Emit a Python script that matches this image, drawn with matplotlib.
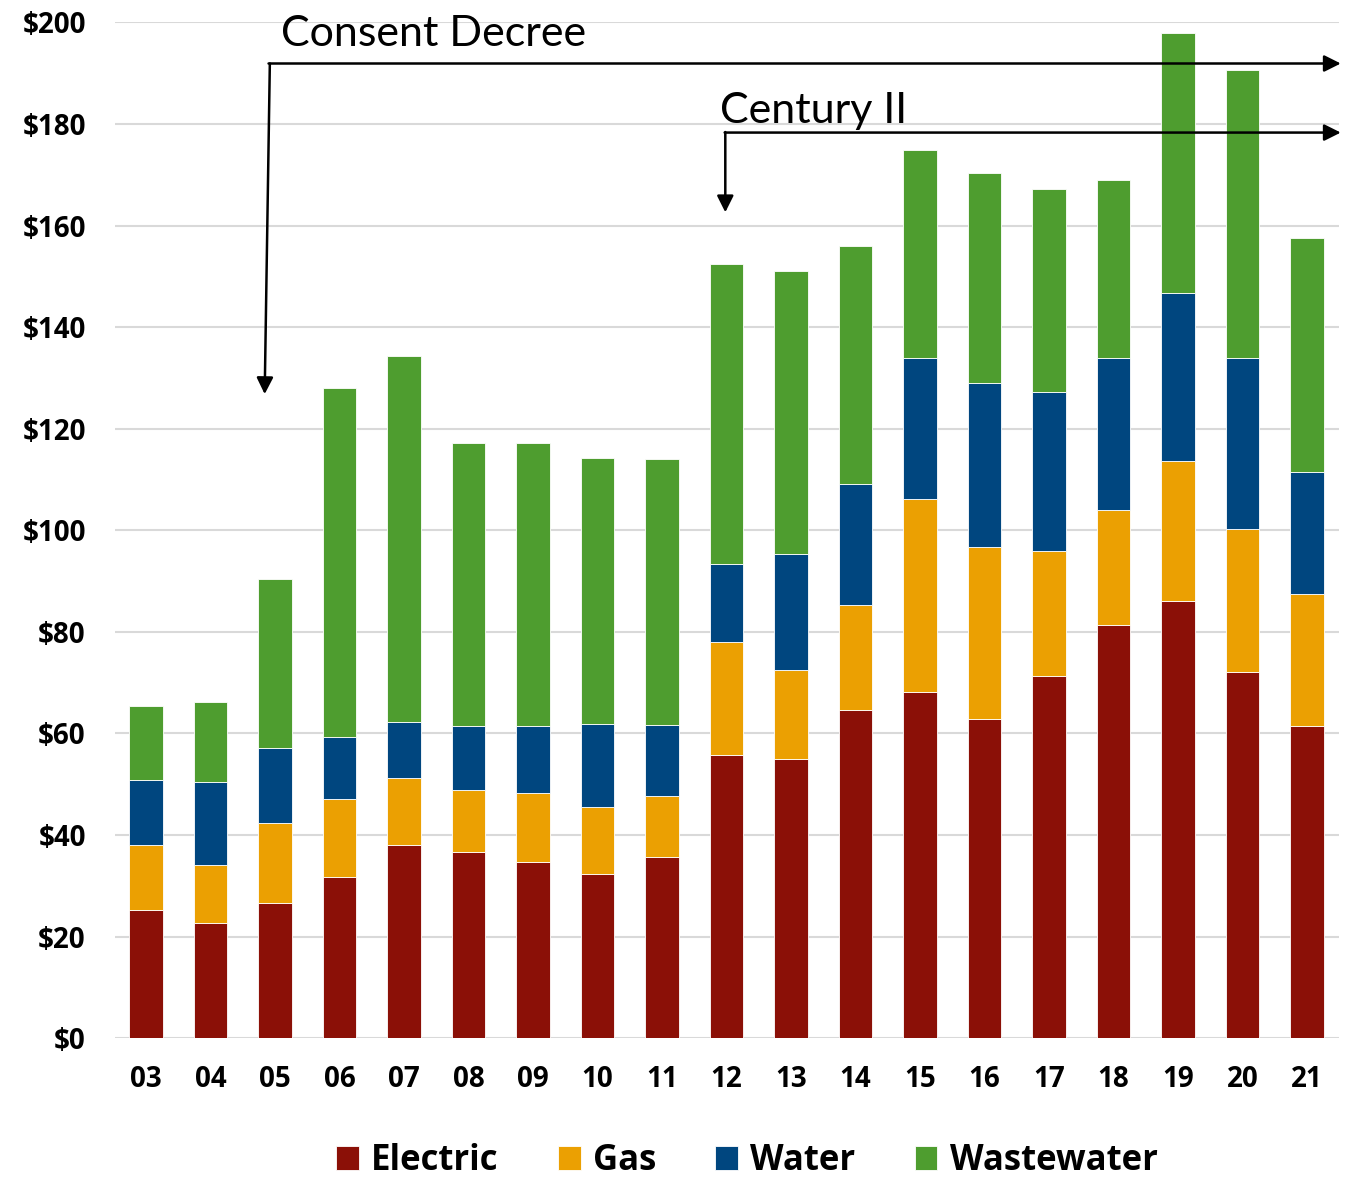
import matplotlib
matplotlib.use('Agg')
import matplotlib.pyplot as plt
import numpy as np

# Fiscal years and spending by utility ($ millions)
years = ['03', '04', '05', '06', '07', '08', '09', '10', '11', '12',
         '13', '14', '15', '16', '17', '18', '19', '20', '21']
electric = [25.2, 22.6, 26.6, 31.7, 38.0, 36.6, 34.6, 32.3, 35.6, 55.7,
            54.9, 64.6, 68.1, 62.8, 71.3, 81.3, 86.0, 72.0, 61.4]
gas = [12.8, 11.5, 15.7, 15.3, 13.2, 12.2, 13.6, 13.2, 12.0, 22.3,
       17.5, 20.6, 38.0, 33.9, 24.6, 22.6, 27.6, 28.2, 26.0]
water = [12.8, 16.3, 14.8, 12.3, 11.0, 12.6, 13.2, 16.3, 14.0, 15.3,
         22.9, 23.9, 27.8, 32.2, 31.3, 30.0, 33.1, 33.7, 24.0]
wastewater = [14.6, 15.7, 33.3, 68.7, 72.1, 55.7, 55.7, 52.4, 52.4, 59.1,
              55.7, 46.8, 40.9, 41.4, 39.9, 35.0, 51.3, 56.7, 46.1]

colors = {'Electric': '#8B1007', 'Gas': '#EBA002', 'Water': '#00467F', 'Wastewater': '#4E9D2F'}

bold_font = ['Open Sans', 'DejaVu Sans']
plt.rcParams['font.family'] = ['Lato', 'DejaVu Sans']

fig = plt.figure(figsize=(13.53, 11.77), dpi=100)
ax = fig.add_axes([0.085, 0.118, 0.905, 0.863])

x = np.arange(len(years))
bottom = np.zeros(len(years))
for name, vals in [('Electric', electric), ('Gas', gas), ('Water', water), ('Wastewater', wastewater)]:
    ax.bar(x, vals, width=0.52, bottom=bottom, color=colors[name], label=name,
           edgecolor='white', linewidth=0.6, zorder=3)
    bottom += np.array(vals)

ax.set_xlim(-0.48, 18.5)
ax.set_ylim(0, 200)
ax.set_yticks(range(0, 201, 20))
ax.set_yticklabels([f'${v}' for v in range(0, 201, 20)], fontsize=20, fontweight='bold', family=bold_font)
ax.set_xticks(x)
ax.set_xticklabels(years, fontsize=20, fontweight='bold', family=bold_font)
ax.tick_params(length=0)
ax.tick_params(axis='y', pad=21)
ax.tick_params(axis='x', pad=19)
ax.grid(axis='y', color='#D9D9D9', linewidth=1.5, zorder=0)
for s in ax.spines.values():
    s.set_visible(False)

arrow = dict(arrowstyle='-|>', color='black', lw=1.8, mutation_scale=25, shrinkA=0, shrinkB=0)

# Consent Decree annotation
ax.annotate('', xy=(18.52, 191.9), xytext=(1.90, 191.9), arrowprops=arrow, annotation_clip=False)
ax.annotate('', xy=(1.84, 126.8), xytext=(1.92, 191.9), arrowprops=arrow, annotation_clip=False)
ax.text(2.10, 197.8, 'Consent Decree', fontsize=31, va='center', ha='left', zorder=5)

# Century II annotation
ax.annotate('', xy=(18.52, 178.3), xytext=(8.97, 178.3), arrowprops=arrow, annotation_clip=False)
ax.annotate('', xy=(8.98, 162.6), xytext=(8.98, 178.4), arrowprops=arrow, annotation_clip=False)
ax.text(8.90, 182.5, 'Century II', fontsize=31, va='center', ha='left', zorder=5)

fig.legend(loc='center', bbox_to_anchor=(0.552, 0.0135), ncol=4, frameon=False,
           prop={'size': 25, 'weight': 'bold', 'family': bold_font}, handlelength=0.66, handleheight=0.66,
           handletextpad=0.35, columnspacing=1.7)

plt.savefig('out.png')
plt.close()
